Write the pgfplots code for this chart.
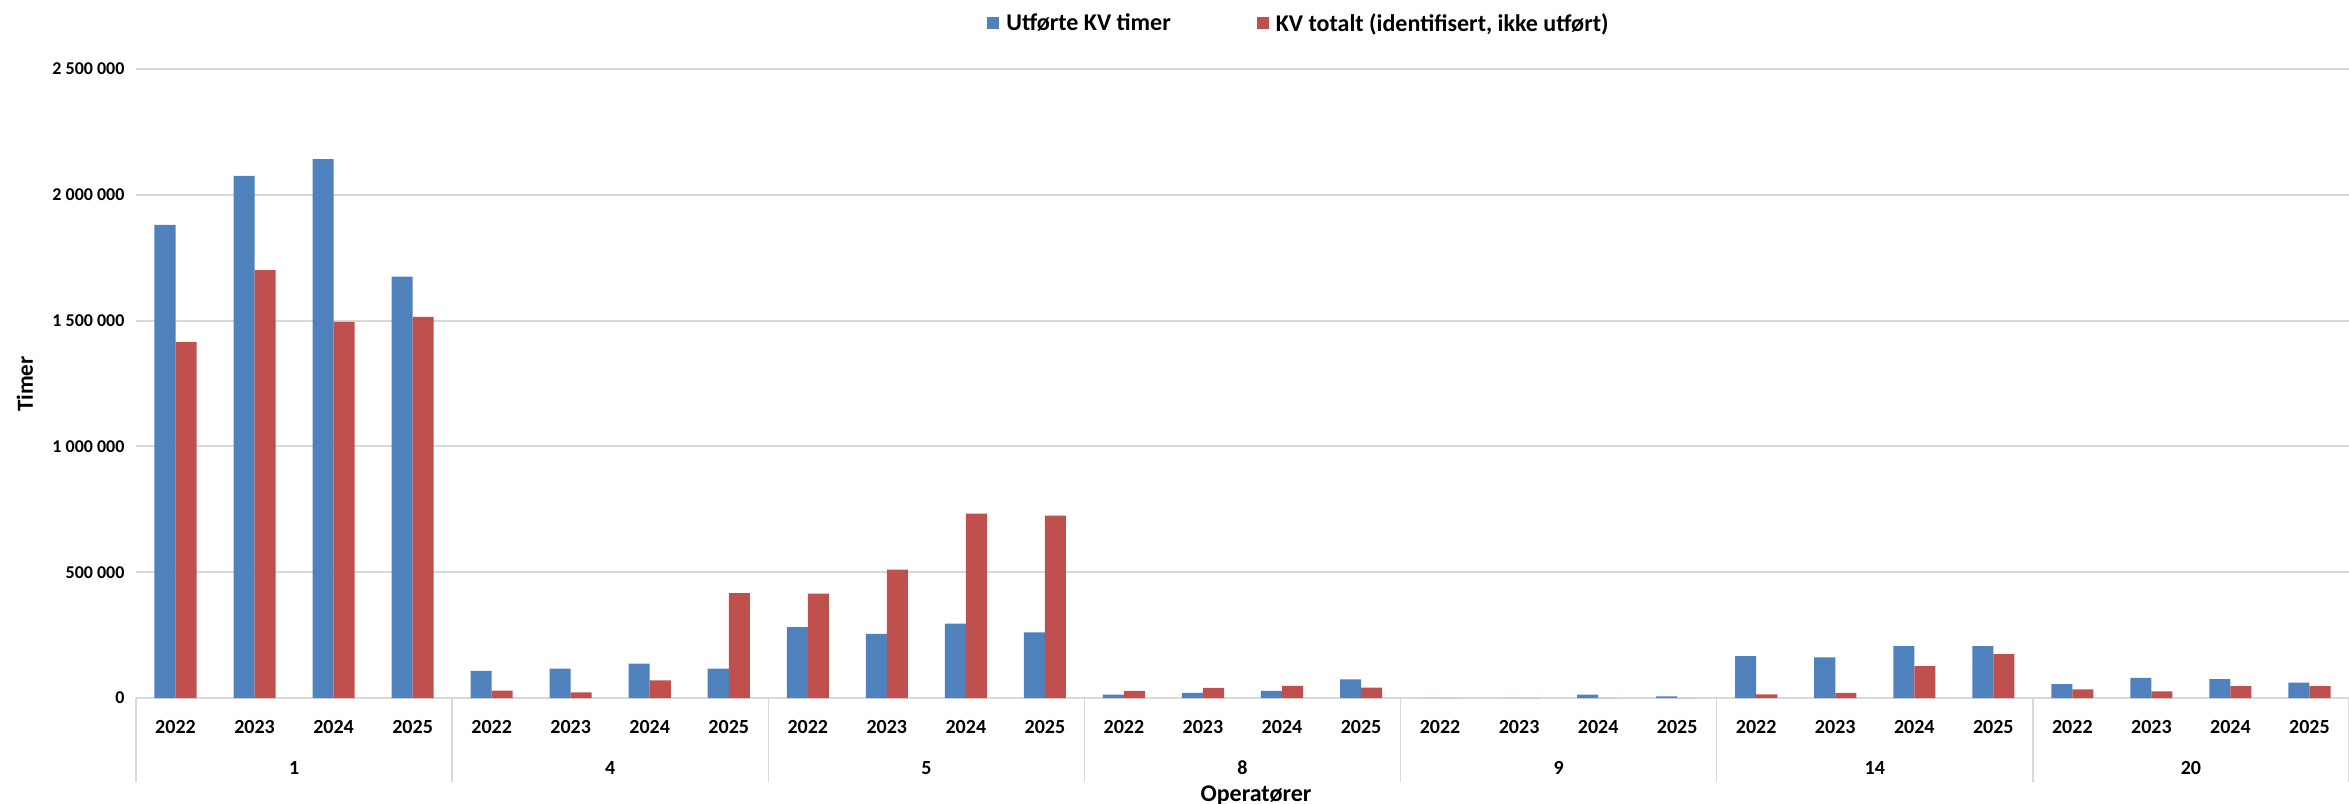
\documentclass[border=0pt]{standalone}
\usepackage{pgfplots}
\pgfplotsset{compat=1.18}
\usepackage{pgfplotstable}
\usepackage{fontspec}
\setmainfont{Carlito}

\definecolor{kvblue}{HTML}{4F81BD}
\definecolor{kvred}{HTML}{C0504D}
\definecolor{gridgray}{HTML}{D9D9D9}

% x = category index (7 operators x 4 years)
\pgfplotstableread{
x   utf     tot
0   1880000 1415000
1   2075000 1701000
2   2142000 1495000
3   1675000 1515000
4   108000  29000
5   117000  22000
6   137000  70000
7   117000  417000
8   282000  415000
9   255000  510000
10  296000  733000
11  261000  725000
12  13000   28000
13  20000   40000
14  28000   48000
15  74000   41000
16  0       0
17  0       0
18  13000   0
19  6500    0
20  166000  14000
21  161000  20000
22  206000  127000
23  206000  174000
24  55000   34000
25  80000   26000
26  75000   47000
27  61000   47000
}\kvdata

\begin{document}
\begin{tikzpicture}
\path[use as bounding box] (0,0) rectangle (2349pt,803pt);
\begin{axis}[
  at={(136pt,105pt)}, anchor=south west,
  scale only axis, width=2213pt, height=629pt,
  ybar=0pt, bar width=0.266,
  xmin=-0.5, xmax=27.5, ymin=0, ymax=2500000,
  xtick={0,...,27},
  xticklabels={2022,2023,2024,2025,2022,2023,2024,2025,2022,2023,2024,2025,
    2022,2023,2024,2025,2022,2023,2024,2025,2022,2023,2024,2025,2022,2023,2024,2025},
  ytick={0,500000,1000000,1500000,2000000,2500000},
  yticklabels={0,500 000,1 000 000,1 500 000,2 000 000,2 500 000},
  scaled y ticks=false,
  major tick length=0pt,
  axis line style={draw=none},
  ymajorgrids, grid style={draw=gridgray, line width=2pt},
  clip=false,
  xticklabel style={font=\fontsize{20}{24}\selectfont\bfseries, anchor=center, yshift=-29.5pt},
  yticklabel style={font=\fontsize{18}{22}\selectfont\bfseries, anchor=east, xshift=-8pt},
  legend style={at={(0.5255,1.0731)}, anchor=center, draw=none, fill=none,
    legend columns=2, font=\fontsize{24}{28}\selectfont\bfseries,
    /tikz/every odd column/.append style={column sep=5pt},
    /tikz/every even column/.append style={column sep=84pt}},
  legend image code/.code={\fill[#1] (0pt,-6pt) rectangle (12pt,6pt);},
]
\draw[gridgray, line width=2pt] (axis cs:-0.5,0) -- (axis cs:27.5,0);
\addplot[fill=kvblue, draw=none] table[x=x, y=utf] {\kvdata};
\addplot[fill=kvred, draw=none] table[x=x, y=tot] {\kvdata};
\legend{Utførte KV timer, {KV totalt (identifisert, ikke utført)}}
\pgfplotsinvokeforeach{-0.5,3.5,7.5,11.5,15.5,19.5,23.5,27.5}{
  \draw[gridgray, line width=1.5pt] (axis cs:#1,0) -- ++(0pt,-84pt);
}
\begin{scope}[every node/.style={font=\fontsize{20}{24}\selectfont\bfseries, yshift=-70pt}]
\node at (axis cs:1.5,0) {1};
\node at (axis cs:5.5,0) {4};
\node at (axis cs:9.5,0) {5};
\node at (axis cs:13.5,0) {8};
\node at (axis cs:17.5,0) {9};
\node at (axis cs:21.5,0) {14};
\node at (axis cs:25.5,0) {20};
\end{scope}
\end{axis}
\node[rotate=90, font=\fontsize{23}{26}\selectfont\bfseries] at (25pt,419pt) {Timer};
\node[anchor=base, font=\fontsize{24}{28}\selectfont\bfseries] at (1256pt,1.5pt) {Operatører};
\end{tikzpicture}
\end{document}
